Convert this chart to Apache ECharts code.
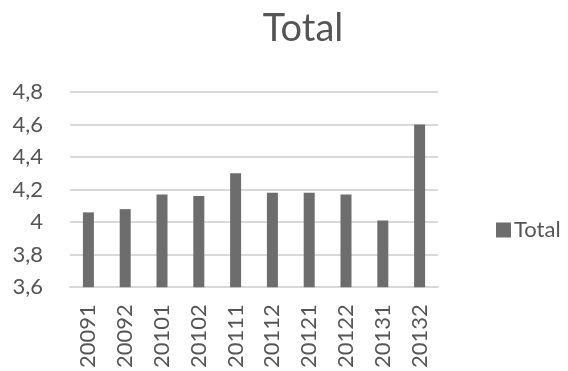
<!DOCTYPE html>
<html>
<head>
<meta charset="utf-8">
<script src="https://cdn.jsdelivr.net/npm/echarts@6/dist/echarts.min.js"></script>
<style>
html,body{margin:0;padding:0;background:#fff;}
#c{width:568px;height:371px;}
</style>
</head>
<body>
<div id="c"></div>
<script>
const categories = ["20091","20092","20101","20102","20111","20112","20121","20122","20131","20132"];
const totalValues = [4.06, 4.08, 4.17, 4.16, 4.30, 4.18, 4.18, 4.17, 4.01, 4.60];
const yTicks = [3.6, 3.8, 4.0, 4.2, 4.4, 4.6, 4.8];

const chart = echarts.init(document.getElementById('c'), null, {renderer: 'canvas'});
const FONT = 'Lato';
const TXT = '#555555';
chart.setOption({
  animation: false,
  backgroundColor: '#fff',
  title: {
    text: 'Total',
    left: 298, top: 5, textAlign: 'center',
    textStyle: {fontFamily: FONT, fontSize: 38, fontWeight: 'normal', color: TXT}
  },
  legend: {
    data: ['Total'],
    left: 491, top: 214,
    itemWidth: 15, itemHeight: 15, itemGap: 5,
    icon: 'rect',
    textStyle: {fontFamily: FONT, fontSize: 22, color: TXT, padding: [0,0,0,-2]}
  },
  grid: {left: 70, right: 130, top: 92, bottom: 83, containLabel: false},
  xAxis: {
    type: 'category',
    data: categories,
    axisTick: {show: false},
    axisLine: {show: true, lineStyle: {color: '#d9d9d9', width: 2}},
    axisLabel: {rotate: 90, fontFamily: FONT, fontSize: 22, color: TXT, margin: 17}
  },
  yAxis: {
    type: 'value',
    min: 3.6, max: 4.8, interval: 0.2,
    axisLine: {show: false},
    axisTick: {show: false},
    splitLine: {lineStyle: {color: '#d9d9d9', width: 2}},
    axisLabel: {
      fontFamily: FONT, fontSize: 22, color: TXT, margin: 27,
      formatter: v => {
        const t = yTicks.find(x => Math.abs(x - v) < 1e-6);
        const val = t !== undefined ? t : v;
        return (Math.round(val * 10) / 10).toString().replace('.', ',');
      }
    }
  },
  series: [{
    name: 'Total',
    type: 'bar',
    data: totalValues,
    barWidth: 11,
    itemStyle: {color: '#6d6d6d'}
  }]
});
</script>
</body>
</html>
